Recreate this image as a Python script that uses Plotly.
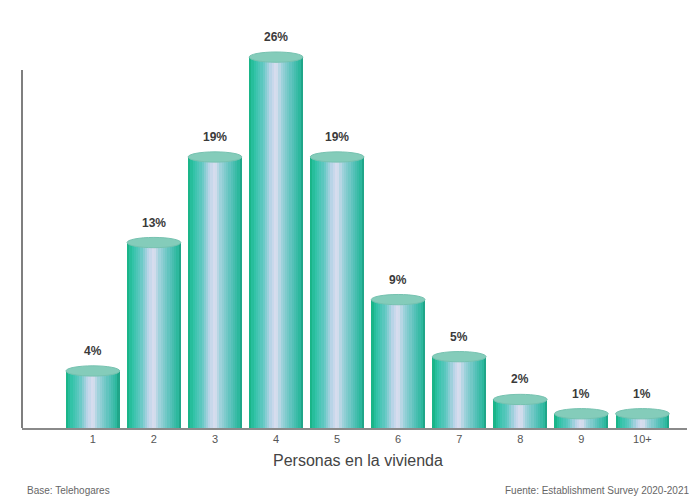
import plotly.graph_objects as go

# Household size distribution
categories = ["1", "2", "3", "4", "5", "6", "7", "8", "9", "10+"]
shares = [4, 13, 19, 26, 19, 9, 5, 2, 1, 1]
value_labels = ["4%", "13%", "19%", "26%", "19%", "9%", "5%", "2%", "1%", "1%"]

BAR_W = 0.88
N_STRIPS = 24

# Horizontal shading profile across each cylinder (position, colour)
profile = [
    (0.00, (20, 176, 128)),
    (0.08, (44, 194, 164)),
    (0.25, (96, 200, 194)),
    (0.40, (186, 212, 232)),
    (0.50, (222, 222, 240)),
    (0.60, (160, 210, 220)),
    (0.80, (88, 194, 186)),
    (0.94, (44, 184, 158)),
    (1.00, (26, 156, 126)),
]


def shade(t):
    for (t0, c0), (t1, c1) in zip(profile[:-1], profile[1:]):
        if t0 <= t <= t1:
            f = (t - t0) / (t1 - t0) if t1 > t0 else 0
            c = [round(a + (b - a) * f) for a, b in zip(c0, c1)]
            return "rgb({},{},{})".format(*c)
    return "rgb({},{},{})".format(*profile[-1][1])


x_idx = list(range(len(categories)))
fig = go.Figure()

strip_w = BAR_W / N_STRIPS
for k in range(N_STRIPS):
    t = (k + 0.5) / N_STRIPS
    fig.add_trace(go.Bar(
        x=x_idx,
        y=shares,
        width=strip_w * 1.08,
        offset=-BAR_W / 2 + k * strip_w,
        marker=dict(color=shade(t), line=dict(width=0)),
        showlegend=False,
        hoverinfo="skip",
    ))

# Elliptical caps on top of each cylinder
cap_h = 0.36
for i, v in zip(x_idx, shares):
    fig.add_shape(type="circle", xref="x", yref="y",
                  x0=i - BAR_W / 2, x1=i + BAR_W / 2,
                  y0=v - cap_h, y1=v + cap_h,
                  fillcolor="rgb(132,204,186)",
                  line=dict(color="rgb(118,194,176)", width=1), layer="above")
    fig.add_annotation(x=i, y=v, text="<b>" + value_labels[i] + "</b>",
                       showarrow=False, yanchor="bottom", yshift=11,
                       font=dict(family="Liberation Sans", size=12, color="#3a3a3a"))

# Vertical axis line
fig.add_shape(type="line", xref="paper", yref="y", x0=0, x1=0, y0=0, y1=25.1,
              line=dict(color="#555555", width=1.5))

fig.add_annotation(xref="paper", yref="paper", x=0.505, y=-0.085,
                   text="Personas en la vivienda", showarrow=False,
                   yanchor="middle",
                   font=dict(family="Liberation Sans", size=16, color="#444444"))
fig.add_annotation(xref="paper", yref="paper", x=0.005, y=-0.16,
                   xanchor="left", yanchor="middle",
                   text="Base: Telehogares", showarrow=False,
                   font=dict(family="Liberation Sans", size=10, color="#666666"))
fig.add_annotation(xref="paper", yref="paper", x=1.006, y=-0.16,
                   xanchor="right", yanchor="middle",
                   text="Fuente: Establishment Survey 2020-2021", showarrow=False,
                   font=dict(family="Liberation Sans", size=10, color="#666666"))

fig.update_layout(
    width=689, height=500,
    margin=dict(l=22, r=2, t=40, b=72),
    paper_bgcolor="white", plot_bgcolor="white",
    barmode="overlay", bargap=0,
    xaxis=dict(
        tickmode="array", tickvals=x_idx, ticktext=categories,
        range=[-1.16, 9.73], showgrid=False, zeroline=False,
        showline=True, linecolor="#8a8a8a", linewidth=1.5,
        ticks="", tickfont=dict(family="Liberation Sans", size=11, color="#555555"),
        fixedrange=True,
    ),
    yaxis=dict(range=[0, 27.2], visible=False, showgrid=False, fixedrange=True),
)

fig.write_html("out.html")
